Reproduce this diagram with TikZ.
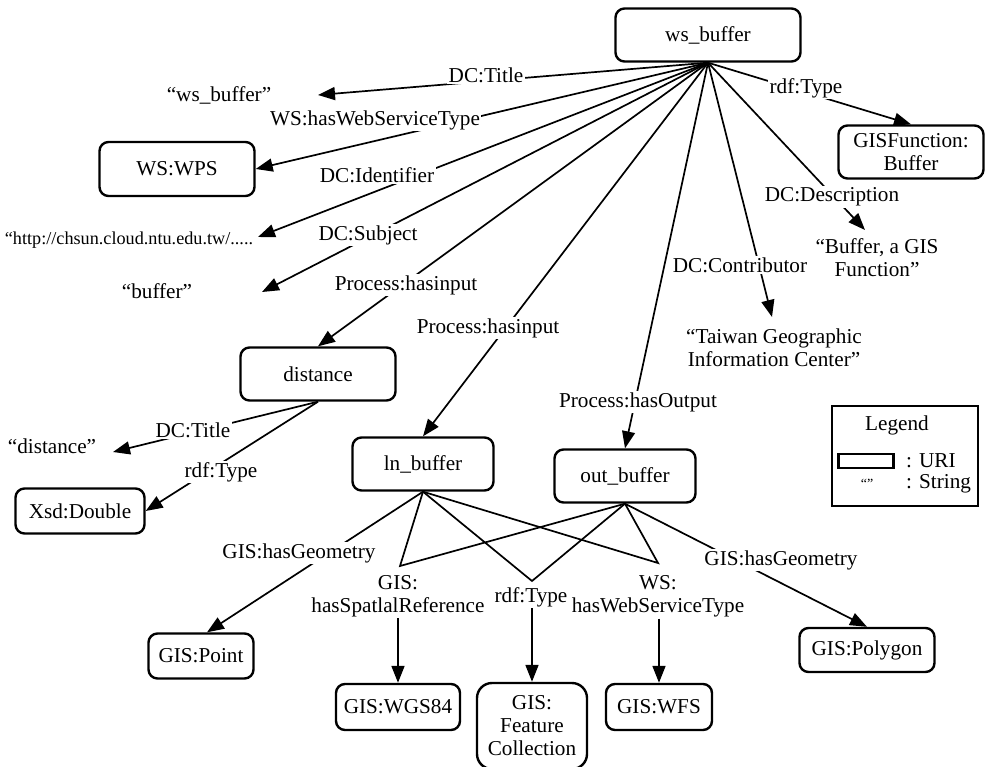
\documentclass[tikz,border=0pt]{standalone}
\usepackage{fontspec}
\setmainfont{Liberation Serif}
\usetikzlibrary{arrows.meta}
\begin{document}
\begin{tikzpicture}[x=1pt,y=-1pt,
  font=\fontsize{21.2}{23}\selectfont,
  uri/.style={draw, line width=2.4pt, rounded corners=9pt, inner sep=0pt, align=center},
  str/.style={inner sep=0pt, align=center},
  lbl/.style={fill=white, inner sep=1.5pt, align=center},
  link/.style={line width=1.7pt},
  arr/.style={link, -{Triangle[length=17pt,width=13pt]}},
]
\useasboundingbox (0,0) rectangle (990,766);

% resources (URI boxes)
\node[uri, minimum width=185pt, minimum height=53pt] (ws)   at (708,35)  {ws\_buffer};
\node[uri, minimum width=145pt, minimum height=53pt] (gf)   at (911,152) {GISFunction:\\Buffer};
\node[uri, minimum width=155pt, minimum height=54pt] (wps)  at (177,169) {WS:WPS};
\node[uri, minimum width=155pt, minimum height=53pt] (dist) at (318,374) {distance};
\node[uri, minimum width=141pt, minimum height=53pt] (ln)   at (423,464) {ln\_buffer};
\node[uri, minimum width=141pt, minimum height=53pt] (out)  at (625,476) {out\_buffer};
\node[uri, minimum width=129pt, minimum height=45pt] (xsd)  at (80,511)  {Xsd:Double};
\node[uri, minimum width=105pt, minimum height=45pt] (pt)   at (201,656) {GIS:Point};
\node[uri, minimum width=124pt, minimum height=46pt] (wgs)  at (398,707) {GIS:WGS84};
\node[uri, minimum width=110pt, minimum height=86pt, rounded corners=15pt] (fc) at (532,726) {GIS:\\Feature\\Collection};
\node[uri, minimum width=106pt, minimum height=46pt] (wfs)  at (659,707) {GIS:WFS};
\node[uri, minimum width=135pt, minimum height=44pt] (poly) at (867,650) {GIS:Polygon};

% literal values (strings)
\node[str] (sWs)   at (219,95)  {“ws\_buffer”};
\node[str, font=\fontsize{18.2}{20}\selectfont] (sId) at (129,240) {“http://chsun.cloud.ntu.edu.tw/.....};
\node[str] (sBuf)  at (157,291) {“buffer”};
\node[str] (sDesc) at (877,258) {“Buffer, a GIS\\Function”};
\node[str] (sTw)   at (774,348) {“Taiwan Geographic\\Information Center”};
\node[str] (sDist) at (52,446)  {“distance”};

% arrow ends next to the strings
\coordinate (tWs)   at (318,95);
\coordinate (tId)   at (258,237);
\coordinate (tBuf)  at (262,292);
\coordinate (tDesc) at (865,230);
\coordinate (tTw)   at (772,317);
\coordinate (tDist) at (113,452);

% properties of ws_buffer
\draw[arr] (ws.south) -- (tWs)        node[lbl] at (486,75)  {DC:Title};
\draw[arr] (ws.south) -- (wps.east)   node[lbl] at (375,120) {WS:hasWebServiceType};
\draw[arr] (ws.south) -- (tId)        node[lbl] at (377,175) {DC:Identifier};
\draw[arr] (ws.south) -- (tBuf)       node[lbl] at (368,235) {DC:Subject};
\draw[arr] (ws.south) -- (dist.north) node[lbl] at (406,285) {Process:hasinput};
\draw[arr] (ws.south) -- (ln.north)   node[lbl] at (488,328) {Process:hasinput};
\draw[arr] (ws.south) -- (out.north)  node[lbl] at (638,402) {Process:hasOutput};
\draw[arr] (ws.south) -- (tTw)        node[lbl] at (740,265) {DC:Contributor};
\draw[arr] (ws.south) -- (tDesc)      node[lbl] at (832,197) {DC:Description};
\draw[arr] (ws.south) -- (gf.north)   node[lbl] at (806,88)  {rdf:Type};

% properties of distance
\draw[arr] (dist.south) -- (tDist)    node[lbl] at (193,430) {DC:Title};
\draw[arr] (dist.south) -- (xsd.east) node[lbl] at (221,472) {rdf:Type};

% geometry of the input and output layers
\draw[arr] (ln.south) -- ([xshift=6pt]pt.north) node[lbl] at (299,553) {GIS:hasGeometry};
\draw[arr] (out.south) -- (poly.north)          node[lbl] at (781,560) {GIS:hasGeometry};

% properties shared by ln_buffer and out_buffer
\coordinate (apS) at (400,566);
\coordinate (apT) at (532,581);
\coordinate (apW) at (658,563);
\draw[link, line join=miter] (ln.south) -- (apS) -- (out.south);
\draw[link, line join=miter] (ln.south) -- (apT) -- (out.south);
\draw[link, line join=miter] (ln.south) -- (apW) -- (out.south);
\node[lbl] (gSpat) at (398,596) {GIS:\\hasSpatlalReference};
\node[lbl] (gType) at (531,597) {rdf:Type};
\node[lbl] (gWS)   at (658,596) {WS:\\hasWebServiceType};
\draw[arr] (gSpat.south) -- (wgs.north);
\draw[arr] (gType.south -| fc.north) -- (fc.north);
\draw[arr] (gWS.south -| wfs.north) -- (wfs.north);

% legend
\node[draw, line width=2.4pt, minimum width=146pt, minimum height=100pt] (leg) at (905,456) {};
\node[str] (legT) at (897,425) {Legend};
\node[draw, line width=2.2pt, minimum width=55pt, minimum height=14pt, inner sep=0pt] (legBox) at (866,461) {};
\node[str, anchor=west] (legU) at (906,461) {: URI};
\node[str, font=\fontsize{14}{15}\selectfont] (legQ) at (867,484) {“”};
\node[str, anchor=west] (legS) at (906,484) {: String};
\end{tikzpicture}
\end{document}
